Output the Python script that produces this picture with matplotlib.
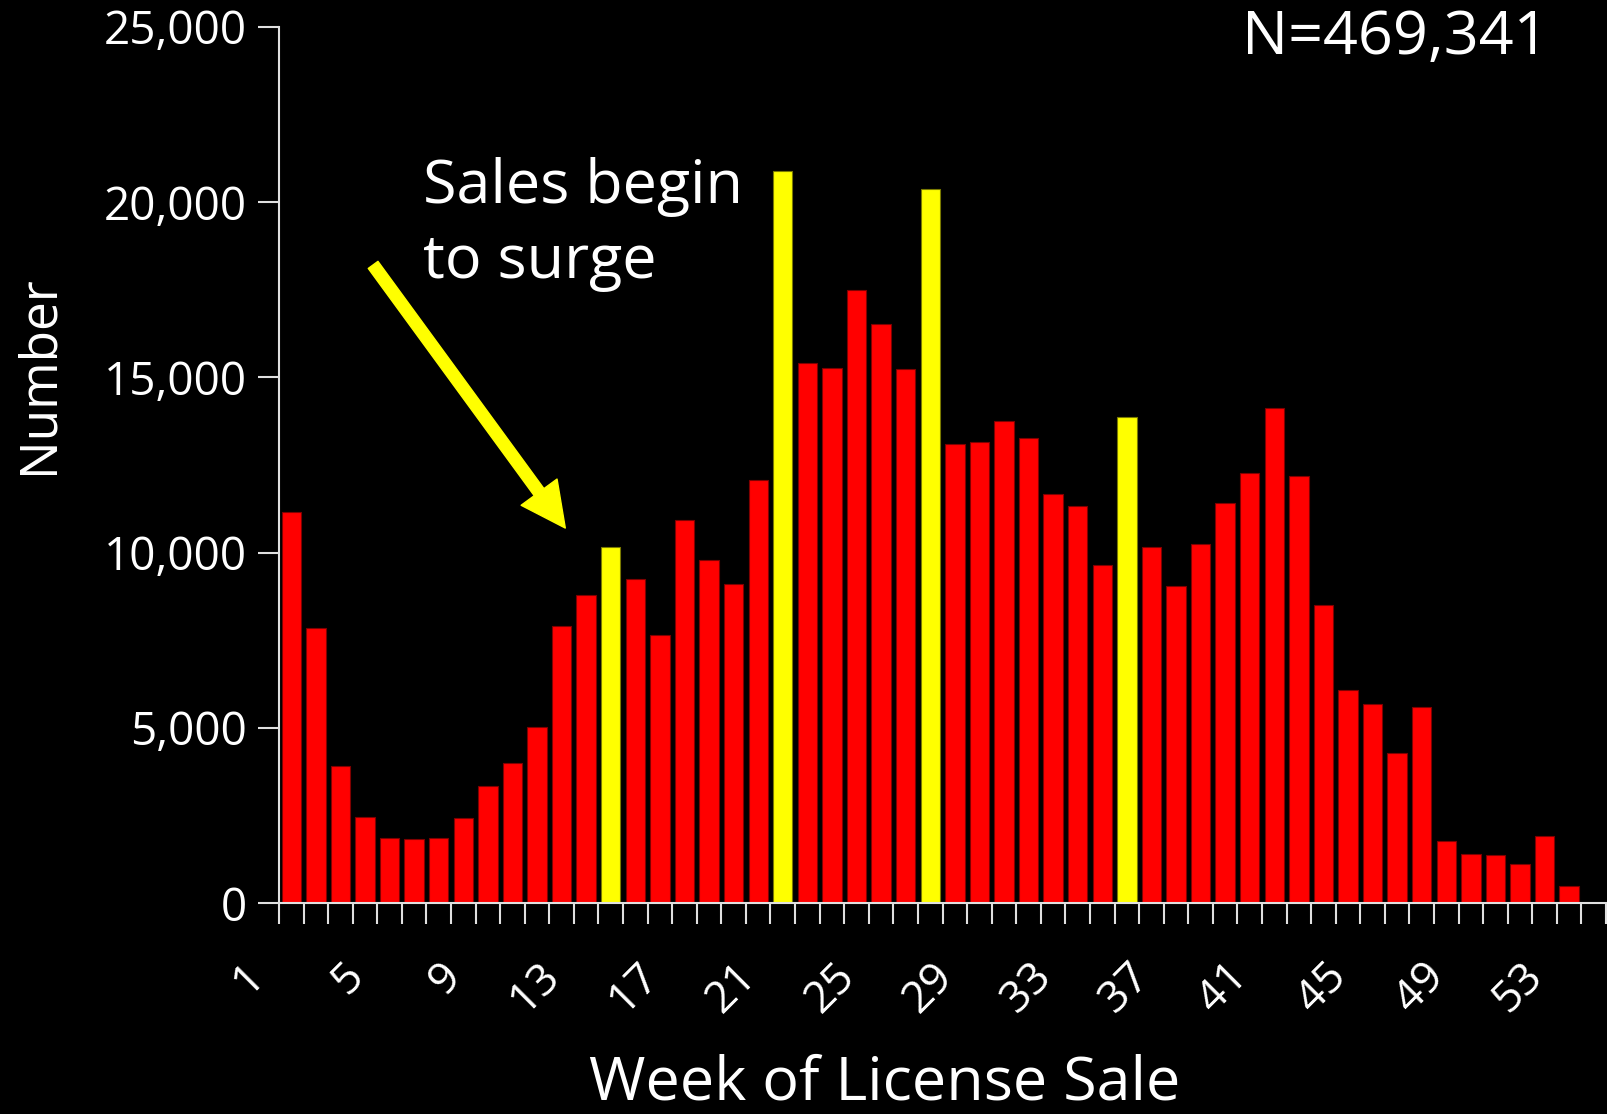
import matplotlib
matplotlib.use("Agg")
import matplotlib.pyplot as plt
import matplotlib.transforms as mtransforms
from matplotlib.ticker import FuncFormatter, MultipleLocator
import numpy as np

plt.rcParams['font.family'] = ['Open Sans', 'DejaVu Sans']

# week number and licenses sold that week
weeks = list(range(1, 54))
counts = [11150, 7850, 3910, 2450, 1865, 1820, 1865, 2430, 3350, 4000,
          5010, 7900, 8780, 10160, 9240, 7650, 10920, 9790, 9100, 12070,
          20880, 15410, 15270, 17500, 16520, 15230, 20380, 13090, 13150, 13750,
          13270, 11660, 11330, 9650, 13870, 10160, 9060, 10250, 11420, 12270,
          14120, 12180, 8500, 6080, 5670, 4270, 5590, 1760, 1400, 1360,
          1110, 1910, 480]
highlight_weeks = [14, 21, 27, 35]
tick_weeks = list(range(1, 54, 4))
total_label = "N=469,341"
note_lines = ["Sales begin", "to surge"]

fg = 'white'
fig = plt.figure(figsize=(16.08, 11.14), dpi=100, facecolor='black')
ax = fig.add_axes([0.1735, 0.1894, 0.8253, 0.7864])
ax.set_facecolor('black')

colors = ['#FFFF00' if w in highlight_weeks else '#FF0000' for w in weeks]
edges = ['#7a7a00' if w in highlight_weeks else '#800000' for w in weeks]
ax.bar(weeks, counts, width=0.79, color=colors, edgecolor=edges, linewidth=0.8, zorder=2)

ax.set_xlim(0.5, 54.5)
ax.set_ylim(0, 25000)

for s in ['top', 'right']:
    ax.spines[s].set_visible(False)
for s in ['left', 'bottom']:
    ax.spines[s].set_color('#e0e0e0')
    ax.spines[s].set_linewidth(1.5)

ax.yaxis.set_major_locator(MultipleLocator(5000))
ax.yaxis.set_major_formatter(FuncFormatter(lambda v, p: f"{int(v):,}"))
ax.tick_params(axis='y', colors='#e0e0e0', labelcolor=fg, length=15, width=1.5,
               pad=8, labelsize=33, direction='out')

ax.set_xticks(tick_weeks)
ax.set_xticklabels([str(w) for w in tick_weeks], rotation=45, ha='right', va='top')
ax.set_xticks(np.arange(0.5, 55, 1.0), minor=True)
ax.tick_params(axis='x', which='major', length=0, pad=37, labelsize=32, labelcolor=fg)
ax.tick_params(axis='x', which='minor', length=15, width=1.5, color='#e0e0e0', direction='out')
shift = mtransforms.ScaledTranslation(-0.17, 0, fig.dpi_scale_trans)
for lab in ax.get_xticklabels():
    lab.set_transform(lab.get_transform() + shift)

fig.text(0.024, 0.664, "Number", rotation=90, ha='center', va='center', color=fg, fontsize=37)
fig.text(0.550, 0.027, "Week of License Sale", ha='center', va='center', color=fg, fontsize=44)
fig.text(0.963, 0.966, total_label, ha='right', va='center', color=fg, fontsize=44)
fig.text(0.263, 0.818, note_lines[0], ha='left', va='baseline', color=fg, fontsize=44)
fig.text(0.263, 0.750, note_lines[1], ha='left', va='baseline', color=fg, fontsize=44)

ax.annotate('', xy=(12.15, 10700), xytext=(4.33, 18210),
            arrowprops=dict(arrowstyle='simple,head_length=1.0,head_width=1.0,tail_width=0.27',
                            mutation_scale=32, color='#FFFF00', shrinkA=0, shrinkB=0))

fig.savefig('out.png', dpi=100, facecolor='black')
